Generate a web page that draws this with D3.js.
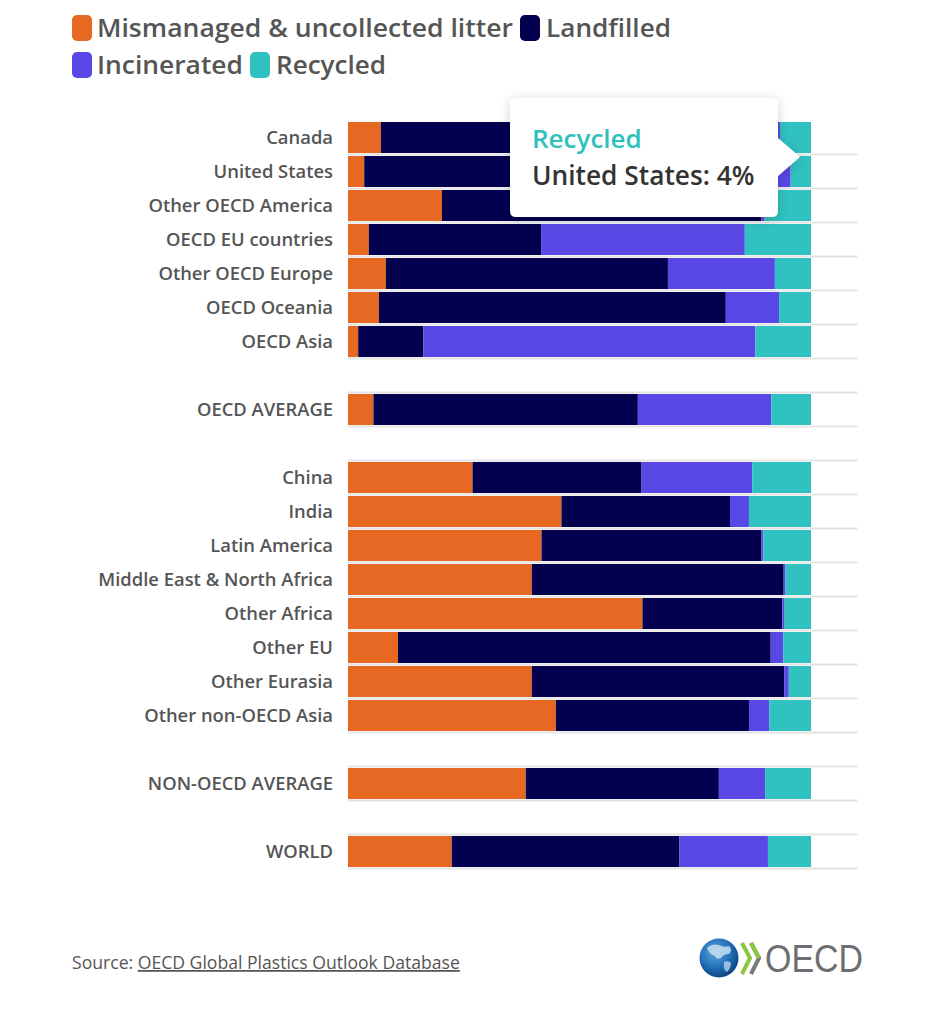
<!DOCTYPE html>
<html><head><meta charset="utf-8">
<script src="https://cdn.jsdelivr.net/npm/d3@7"></script>
<style>
html,body{margin:0;padding:0;background:#fff;}
svg{display:block;font-family:"Open Sans",sans-serif;}
</style></head>
<body>
<svg id="chart" width="936" height="1024"></svg>
<script>
const categories = ["Canada","United States","Other OECD America","OECD EU countries","Other OECD Europe","OECD Oceania","OECD Asia","gap1","OECD AVERAGE","gap2","China","India","Latin America","Middle East & North Africa","Other Africa","Other EU","Other Eurasia","Other non-OECD Asia","gap3","NON-OECD AVERAGE","gap4","WORLD"];
const mismanaged  = [7.1, 3.5, 20.3, 4.5, 8.2, 6.7, 2.2, null, 5.5, null, 26.9, 46.1, 41.8, 39.7, 63.6, 10.8, 39.7, 44.9, null, 38.4, null, 22.4];
const landfilled  = [80.6, 73.1, 69, 37.2, 60.9, 74.9, 14.1, null, 57.1, null, 36.5, 36.4, 47.5, 54.4, 30.2, 80.5, 54.5, 41.7, null, 41.7, null, 49.2];
const incinerated = [5.6, 19, 0.7, 44, 23.1, 11.5, 71.7, null, 28.8, null, 23.9, 4.1, 0.4, 0.4, 0.5, 2.7, 1.0, 4.4, null, 10.0, null, 19.1];
const recycled    = [6.7, 4.4, 10, 14.3, 7.8, 6.9, 12, null, 8.6, null, 12.7, 13.4, 10.3, 5.5, 5.7, 6.0, 4.8, 9.0, null, 9.9, null, 9.3];
const seriesNames = ["Mismanaged & uncollected litter","Landfilled","Incinerated","Recycled"];
const seriesKeys = ["mismanaged","landfilled","incinerated","recycled"];
const colors = ["#e66822","#03004f","#5a48e6","#30c2c0"];
const tooltipSeries = "Recycled";
const tooltipText = "United States: 4%";
const sourceLabel = "Source: ";
const sourceLink = "OECD Global Plastics Outlook Database";

const rows = categories.map((c,i)=>({cat:c, gap:c.startsWith("gap"), mismanaged:mismanaged[i]||0, landfilled:landfilled[i]||0, incinerated:incinerated[i]||0, recycled:recycled[i]||0}));

const svg = d3.select("#chart");
const x = d3.scaleLinear().domain([0,110]).range([348,857.3]);
const y = d3.scaleBand().domain(categories).range([120.5, 120.5+34*categories.length]).paddingInner(0).paddingOuter(0);

// gridlines at band bottoms
svg.append("g").selectAll("line").data(categories).join("line")
  .attr("x1", x(0)).attr("x2", x(110))
  .attr("y1", d=>y(d)+y.bandwidth()).attr("y2", d=>y(d)+y.bandwidth())
  .attr("stroke","#e4e4e4").attr("stroke-width",2);

const stack = d3.stack().keys(seriesKeys)(rows);
const barG = svg.append("g");
stack.forEach((s,si)=>{
  barG.append("g").attr("fill",colors[si]).selectAll("rect")
    .data(s.filter(d=>!d.data.gap)).join("rect")
    .attr("x", d=>x(d[0])).attr("width", d=>Math.max(0,x(d[1])-x(d[0])))
    .attr("y", d=>y(d.data.cat)+1.5).attr("height", 31);
});

// category labels
svg.append("g").selectAll("text").data(categories.filter(c=>!c.startsWith("gap"))).join("text")
  .attr("x",333).attr("y",d=>y(d)+y.bandwidth()/2).attr("dy","0.35em")
  .attr("text-anchor","end").attr("font-size",18.4).attr("font-weight",600).attr("fill","#555")
  .text(d=>d);

// legend
const legendItems = [
  {i:0, sx:72, ty:28, tx:97, w:416},
  {i:1, sx:520, ty:28, tx:546, w:125},
  {i:2, sx:72, ty:65, tx:97, w:146},
  {i:3, sx:250, ty:65, tx:276, w:110}
];
const lg = svg.append("g");
legendItems.forEach(it=>{
  lg.append("rect").attr("x",it.sx).attr("y",it.ty-13).attr("width",20).attr("height",26).attr("rx",5).attr("fill",colors[it.i]);
  lg.append("text").attr("x",it.tx).attr("y",it.ty).attr("dy","0.35em")
    .attr("font-size",26).attr("font-weight",600).attr("fill","#555")
    .attr("textLength",it.w).attr("lengthAdjust","spacingAndGlyphs")
    .text(seriesNames[it.i]);
});

// tooltip
const defs = svg.append("defs");
const f = defs.append("filter").attr("id","sh").attr("x","-20%").attr("y","-30%").attr("width","140%").attr("height","160%");
f.append("feDropShadow").attr("dx",0).attr("dy",2).attr("stdDeviation",6).attr("flood-color","#000").attr("flood-opacity",0.18);
const tt = svg.append("g");
tt.append("path").attr("d","M516,98 H772 Q778,98 778,104 V138 L800,157 L778,176 V211 Q778,217 772,217 H516 Q510,217 510,211 V104 Q510,98 516,98 Z")
  .attr("fill","#fff").attr("filter","url(#sh)");
tt.append("text").attr("x",532).attr("y",147.5).attr("font-size",26).attr("font-weight",600).attr("fill","#2fc1bf").text(tooltipSeries);
tt.append("text").attr("x",532).attr("y",185).attr("font-size",26.3).attr("font-weight",600).attr("fill","#333").text(tooltipText);

// source
const src = svg.append("text").attr("x",72).attr("y",969).attr("font-size",17.6).attr("fill","#555");
src.append("tspan").text(sourceLabel);
src.append("tspan").attr("text-decoration","underline").text(sourceLink);

// OECD logo
const rg = defs.append("radialGradient").attr("id","globe").attr("cx","40%").attr("cy","35%").attr("r","70%");
rg.append("stop").attr("offset","0%").attr("stop-color","#5fa8e0");
rg.append("stop").attr("offset","60%").attr("stop-color","#1f6bb5");
rg.append("stop").attr("offset","100%").attr("stop-color","#0b3f7a");
const logo = svg.append("g");
logo.append("circle").attr("cx",719).attr("cy",958).attr("r",19.5).attr("fill","url(#globe)");
logo.append("path").attr("d","M707,948 q5,-5 12,-3 q4,3 10,1 q4,4 0,8 q-6,0 -8,4 q-5,2 -6,-2 q-6,-2 -8,-8 Z").attr("fill","#cfe3f3").attr("opacity",0.8);
logo.append("path").attr("d","M724,962 q4,-2 7,1 q0,5 -4,9 q-4,-2 -3,-10 Z").attr("fill","#cfe3f3").attr("opacity",0.7);
logo.append("path").attr("d","M742,943 L750,958 L742,974").attr("fill","none").attr("stroke","#8cc63f").attr("stroke-width",4);
logo.append("path").attr("d","M751,943 L759,958 L751,974").attr("fill","none").attr("stroke","#7a7a7a").attr("stroke-width",4);
logo.append("path").attr("d","M751,943 L759,958").attr("fill","none").attr("stroke","#8cc63f").attr("stroke-width",4);
logo.append("text").attr("x",765).attr("y",972).attr("font-family","Liberation Sans, Arial, sans-serif").attr("font-size",39)
  .attr("fill","#6d6e71").attr("textLength",98).attr("lengthAdjust","spacingAndGlyphs").text("OECD");
</script>
</body></html>
